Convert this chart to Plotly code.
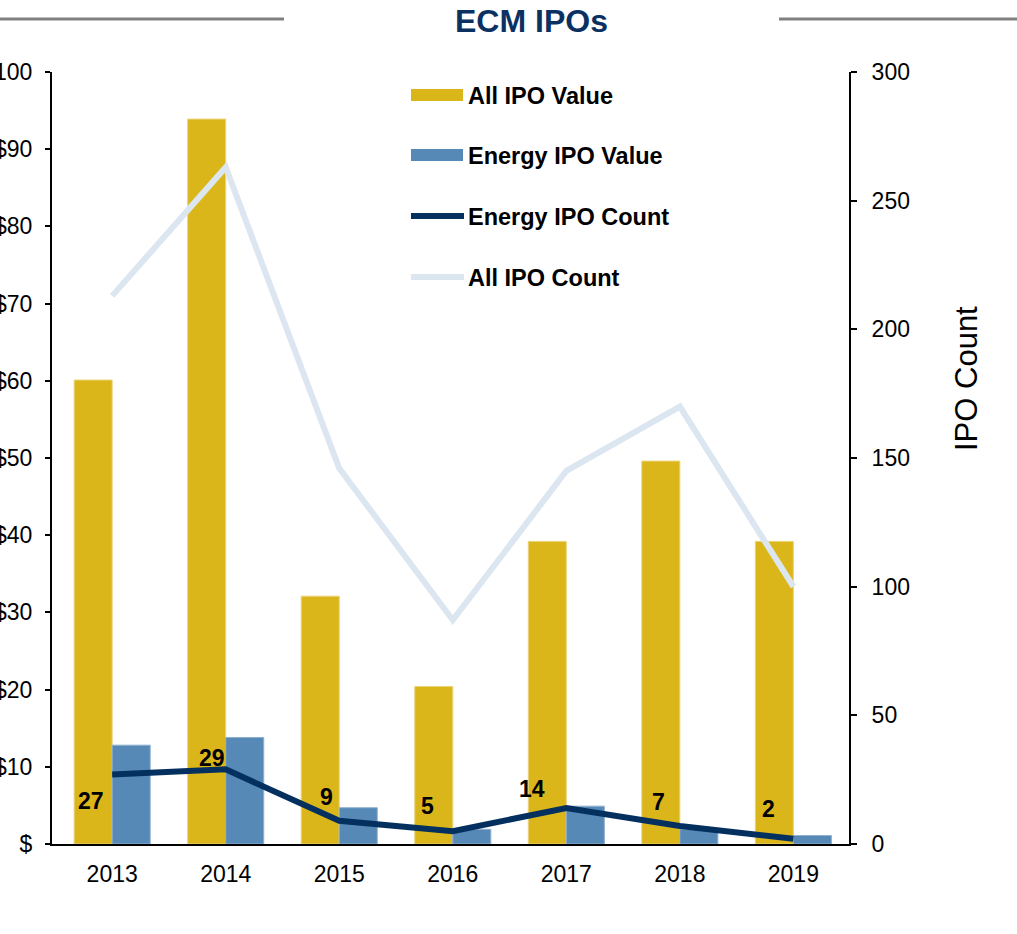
import plotly.graph_objects as go

# ---------------- data ----------------
years = ["2013", "2014", "2015", "2016", "2017", "2018", "2019"]
all_ipo_value = [60.1, 93.9, 32.1, 20.4, 39.2, 49.6, 39.2]        # $bn, left axis
energy_ipo_value = [12.8, 13.8, 4.7, 1.9, 4.9, 1.9, 1.1]         # $bn, left axis
energy_ipo_count = [27, 29, 9, 5, 14, 7, 2]                       # right axis
all_ipo_count = [213, 263, 146, 87, 145, 170, 100]                # right axis

left_tickvals = [0, 10, 20, 30, 40, 50, 60, 70, 80, 90, 100]
left_ticktext = ["$", "$10", "$20", "$30", "$40", "$50", "$60", "$70", "$80", "$90", "$100"]
right_tickvals = [0, 50, 100, 150, 200, 250, 300]
right_ticktext = ["0", "50", "100", "150", "200", "250", "300"]

series_names = ["All IPO Value", "Energy IPO Value", "Energy IPO Count", "All IPO Count"]
title_text = "ECM IPOs"
right_axis_title = "IPO Count"

# ---------------- style ----------------
GOLD = "#DBB61A"
BLUE = "#5689B6"
NAVY = "#04305F"
LIGHT = "#DCE6F0"
TITLE_COLOR = "#0B3163"
FONT = "Liberation Sans, Arial, sans-serif"

W, H = 1017, 934
L, R, T, B = 52, 168, 72, 90


def px(x):
    return (x - L) / (W - L - R)


def py(y):
    return (H - B - y) / (H - T - B)


# label offsets (pixels) for the energy-count data labels
label_shift = [(-21, -26), (-14, 11), (-13, 24), (-25, 25), (-34, 19), (-21, 24), (-25, 30)]

fig = go.Figure()

fig.add_trace(go.Bar(
    x=years, y=all_ipo_value, name=series_names[0],
    marker=dict(color=GOLD, line=dict(color="#EBD37A", width=1)),
    yaxis="y", showlegend=False,
))
fig.add_trace(go.Bar(
    x=years, y=energy_ipo_value, name=series_names[1],
    marker=dict(color=BLUE, line=dict(color="#8FB0D0", width=1)),
    yaxis="y", showlegend=False,
))
fig.add_trace(go.Scatter(
    x=years, y=all_ipo_count, name=series_names[3], mode="lines",
    line=dict(color=LIGHT, width=6), yaxis="y2", showlegend=False,
))
fig.add_trace(go.Scatter(
    x=years, y=energy_ipo_count, name=series_names[2], mode="lines",
    line=dict(color=NAVY, width=6), yaxis="y2", showlegend=False,
))

annotations = []
for i, (cnt, (dx, dy)) in enumerate(zip(energy_ipo_count, label_shift)):
    annotations.append(dict(
        x=i, y=cnt, xref="x", yref="y2", text=f"<b>{cnt}</b>", showarrow=False,
        xshift=dx, yshift=dy, font=dict(family=FONT, size=23, color="black"),
    ))

# title
annotations.append(dict(
    x=px(531), y=py(21), xref="paper", yref="paper", text=f"<b>{title_text}</b>",
    showarrow=False, xanchor="center", yanchor="middle",
    font=dict(family=FONT, size=32, color=TITLE_COLOR),
))
# right axis title
annotations.append(dict(
    x=px(966), y=py(379), xref="paper", yref="paper", text=right_axis_title,
    showarrow=False, textangle=-90, xanchor="center", yanchor="middle",
    font=dict(family=FONT, size=31, color="black"),
))

shapes = [
    dict(type="line", xref="paper", yref="paper", x0=px(0), x1=px(284), y0=py(19), y1=py(19),
         line=dict(color="#808080", width=3)),
    dict(type="line", xref="paper", yref="paper", x0=px(779), x1=px(1017), y0=py(19), y1=py(19),
         line=dict(color="#808080", width=3)),
]

# custom legend
legend_y = [95, 155, 216, 277]
legend_kind = ["rect", "rect", "line", "line"]
legend_color = [GOLD, BLUE, NAVY, LIGHT]
for name, yc, kind, col in zip(series_names, legend_y, legend_kind, legend_color):
    if kind == "rect":
        shapes.append(dict(type="rect", xref="paper", yref="paper",
                           x0=px(411), x1=px(463), y0=py(yc - 6), y1=py(yc + 6),
                           fillcolor=col, line=dict(width=0)))
    else:
        shapes.append(dict(type="line", xref="paper", yref="paper",
                           x0=px(411), x1=px(464), y0=py(yc), y1=py(yc),
                           line=dict(color=col, width=6)))
    annotations.append(dict(
        x=px(466), y=py(yc + 1), xref="paper", yref="paper", text=f"<b>{name}</b>",
        showarrow=False, xanchor="left", yanchor="middle",
        font=dict(family=FONT, size=23.5, color="black"),
    ))

fig.update_layout(
    width=W, height=H, autosize=False,
    margin=dict(l=L, r=R, t=T, b=B, pad=0),
    paper_bgcolor="white", plot_bgcolor="white",
    barmode="group", bargap=0.33, bargroupgap=0,
    font=dict(family=FONT, size=23, color="black"),
    showlegend=False,
    xaxis=dict(
        type="category", range=[-0.53, 6.49], showgrid=False, zeroline=False,
        showline=True, linecolor="black", linewidth=2, ticks="",
        ticklabelstandoff=8, tickfont=dict(family=FONT, size=23, color="black"),
        automargin=False,
    ),
    yaxis=dict(
        range=[0, 100], tickvals=left_tickvals, ticktext=left_ticktext,
        showgrid=False, zeroline=False, showline=True, linecolor="black", linewidth=2,
        ticks="outside", ticklen=5, tickwidth=2, tickcolor="black",
        ticklabelstandoff=8, tickfont=dict(family=FONT, size=23, color="black"),
        automargin=False,
    ),
    yaxis2=dict(
        range=[0, 300], tickvals=right_tickvals, ticktext=right_ticktext,
        overlaying="y", side="right", showgrid=False, zeroline=False,
        showline=True, linecolor="black", linewidth=2,
        ticks="outside", ticklen=6, tickwidth=2, tickcolor="black",
        ticklabelstandoff=10, tickfont=dict(family=FONT, size=23, color="black"),
        automargin=False,
    ),
    shapes=shapes,
    annotations=annotations,
)

fig.write_html(
    "out.html",
    config={"displayModeBar": False},
    post_script="document.body.style.margin='0';document.body.style.overflow='hidden';",
)
